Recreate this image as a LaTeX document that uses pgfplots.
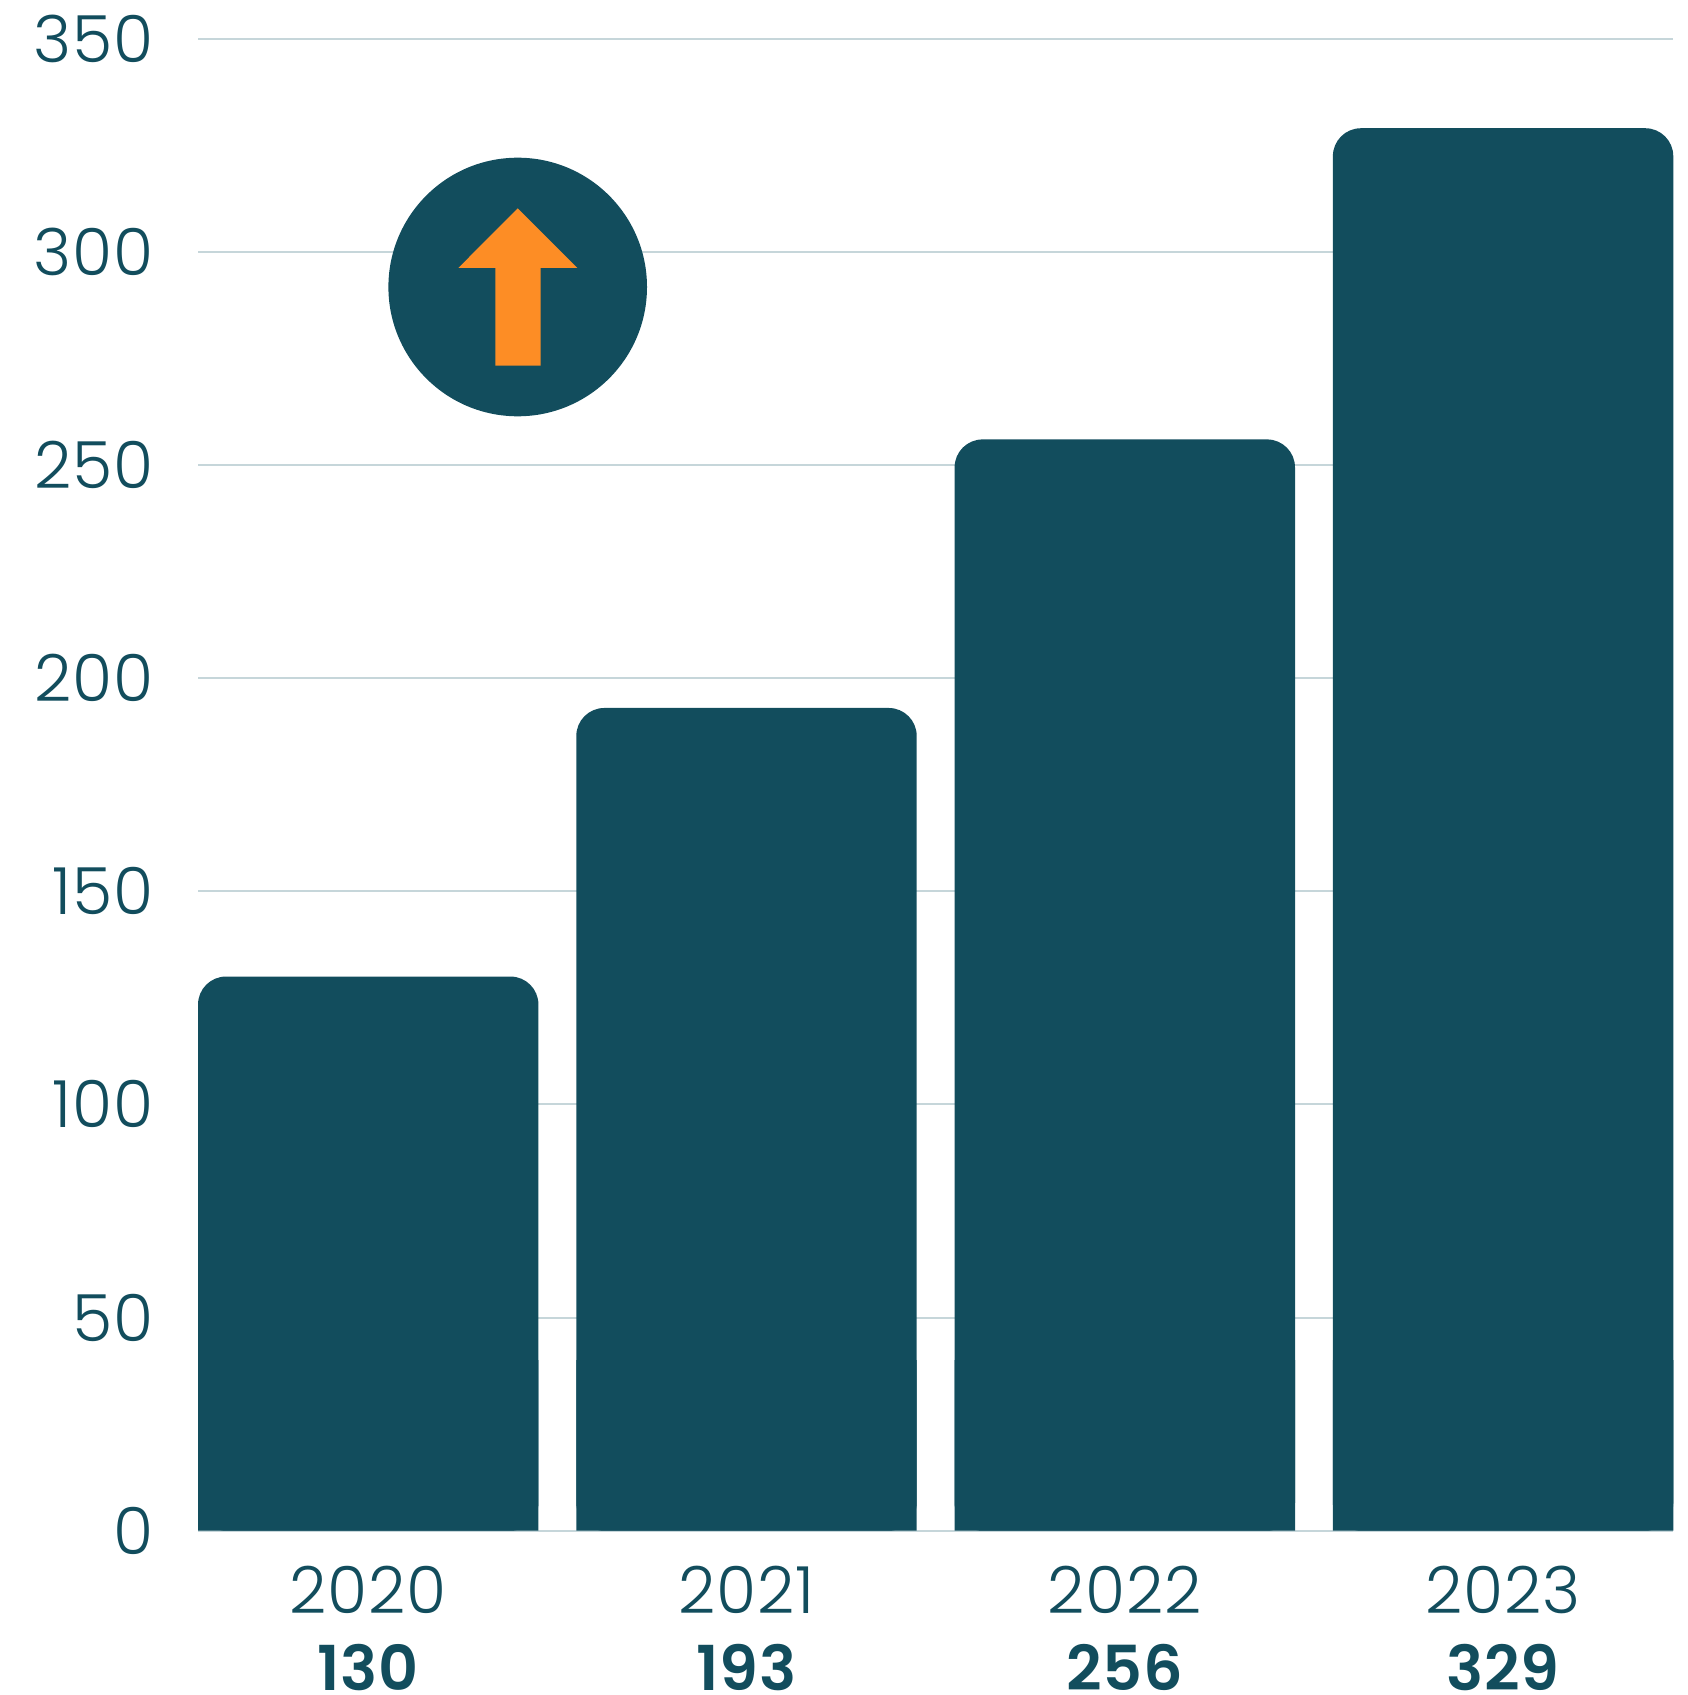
\documentclass[border=0pt]{standalone}
\usepackage{pgfplots}
\usepackage{fontspec}
\pgfplotsset{compat=1.18}
\newfontfamily\lightface[LetterSpace=1.5]{Poppins Light}
\newfontfamily\heavyface[LetterSpace=1.5]{Poppins SemiBold}
\newcommand{\totalfont}{\heavyface\fontsize{31}{38.5}\selectfont}
\definecolor{barteal}{HTML}{124D5D}
\definecolor{gridgrey}{HTML}{C6D6DA}
\definecolor{arroworange}{HTML}{FD8D25}
\pgfplotstableread{
x y
0 130
1 193
2 256
3 329
}\yearly
% square feet under the rounded bars, lower than every corner
\pgfplotstableread{
x y
0 40
1 40
2 40
3 40
}\barfeet
\begin{document}
\begin{tikzpicture}
  \path[use as bounding box] (0,0) rectangle (843.5pt,-847.5pt);
  \begin{axis}[
    at={(99pt,-765.35pt)}, anchor=south west,
    scale only axis, width=737.65pt, height=746pt,
    xmin=-0.45, xmax=3.45, ymin=0, ymax=350,
    clip=false,
    ytick={0,50,...,350},
    xtick={0,1,2,3},
    xticklabels={{2020\\{\totalfont 130}},{2021\\{\totalfont 193}},{2022\\{\totalfont 256}},{2023\\{\totalfont 329}}},
    axis line style={draw=none},
    major tick length=0pt,
    ymajorgrids,
    major grid style={draw=gridgrey, line width=1pt},
    /pgf/number format/assume math mode=true,
    tick label style={text=barteal, inner sep=0pt},
    y tick label style={font=\lightface\fontsize{32.5}{38.5}\selectfont, anchor=east, xshift=-21.8pt},
    x tick label style={font=\lightface\fontsize{32.5}{38.5}\selectfont, align=center, anchor=north, yshift=-17.6pt},
  ]
    \addplot[ybar, bar shift=0pt, bar width=170.2pt, fill=barteal, draw=none, rounded corners=14pt] table[x=x,y=y] {\yearly};
    \addplot[ybar, bar shift=0pt, bar width=170.2pt, fill=barteal, draw=none] table[x=x,y=y] {\barfeet};
  \end{axis}
  % upward-trend badge
  \begin{scope}[x=0.5pt,y=-0.5pt]
    \fill[barteal] (517.7,287) circle[radius=129.3];
    \fill[arroworange] (517.7,208.3) -- (577.3,268) -- (540.7,268) -- (540.7,365.7)
      -- (495.3,365.7) -- (495.3,268) -- (458.3,268) -- cycle;
  \end{scope}
\end{tikzpicture}
\end{document}
